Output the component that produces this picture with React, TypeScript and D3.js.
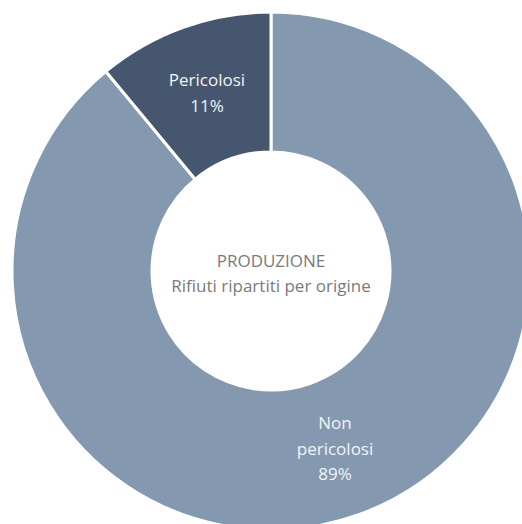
import React from 'react';
import * as d3 from 'd3';

// data
const categories = ['Non pericolosi', 'Pericolosi'];
const values = [89, 11];
const labelLines = [['Non', 'pericolosi', '89%'], ['Pericolosi', '11%']];
const colors = ['#8498b0', '#46566f'];
const centerLines = ['PRODUZIONE', 'Rifiuti ripartiti per origine'];

const App: React.FC = () => {
  const width = 522;
  const height = 524;
  const cx = 271;
  const cy = 271;
  const outerR = 259;
  const innerR = 119;

  const pie = d3.pie<number>().sort(null).value(d => d);
  const arcs = pie(values);
  const arc = d3.arc<d3.PieArcDatum<number>>().innerRadius(innerR).outerRadius(outerR);

  const font = '"Open Sans", sans-serif';
  const lh = 25.5;

  return (
    <svg width={width} height={height} style={{ position: 'absolute', left: 0, top: 0 }}>
      <g transform={`translate(${cx},${cy})`}>
        {arcs.map((a, i) => (
          <path key={categories[i]} d={arc(a) || ''} fill={colors[i]} stroke="#fff" strokeWidth={3} />
        ))}
        {arcs.map((a, i) => {
          const [x, y] = arc.centroid(a);
          const lines = labelLines[i];
          return (
            <text key={'l' + i} x={x} y={y} textAnchor="middle" fill="#f2f4f7"
              fontFamily={font} fontSize={17}>
              {lines.map((t, j) => (
                <tspan key={j} x={x} y={y + (j - (lines.length - 1) / 2) * lh} dy="0.35em">{t}</tspan>
              ))}
            </text>
          );
        })}
        <text textAnchor="middle" fill="#7a7a7a" fontFamily={font} fontSize={17}>
          {centerLines.map((t, j) => (
            <tspan key={j} x={0} y={(j - 0.5) * 25 + 2.5} dy="0.35em">{t}</tspan>
          ))}
        </text>
      </g>
    </svg>
  );
};

export default App;
